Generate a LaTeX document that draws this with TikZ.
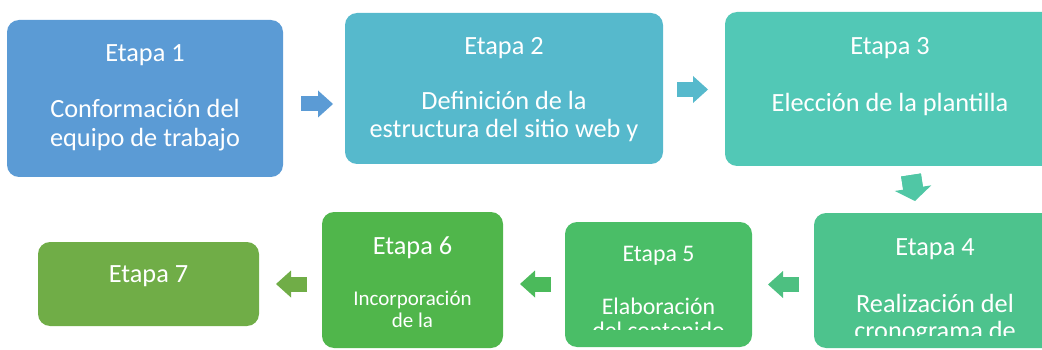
\documentclass[tikz,border=0pt]{standalone}
\usepackage{fontspec}
\setmainfont{Carlito}
\usetikzlibrary{arrows.meta,calc}
\definecolor{cA}{HTML}{5B9BD5}
\definecolor{cB}{HTML}{56B9CC}
\definecolor{cC}{HTML}{52C8B6}
\definecolor{cD}{HTML}{4DC38D}
\definecolor{cE}{HTML}{4ABE67}
\definecolor{cF}{HTML}{50B64B}
\definecolor{cG}{HTML}{70AD47}
\definecolor{aA}{HTML}{5B9BD5}
\definecolor{aB}{HTML}{56B9CC}
\definecolor{aC}{HTML}{50C7A5}
\definecolor{aD}{HTML}{4DC081}
\definecolor{aE}{HTML}{4BBA5B}
\definecolor{aF}{HTML}{70AD47}
\begin{document}
\begin{tikzpicture}[x=1pt,y=-1pt,
  stagebox/.style={rectangle, rounded corners=12pt, inner sep=0pt, draw=none},
  txt/.style={text=white, inner sep=0pt, anchor=base},
  bigf/.style={font=\fontsize{26.3}{28}\selectfont},
  midf/.style={font=\fontsize{23.8}{26}\selectfont},
  smallf/.style={font=\fontsize{21}{22}\selectfont},
  blockarrow/.style={line width=15pt, line cap=butt, -{Triangle[width=27pt,length=15pt,line width=0pt]}},
  bigarrow/.style={line width=20pt, line cap=butt, -{Triangle[width=37pt,length=13pt,line width=0pt]}}]
\useasboundingbox (0,0) rectangle (1042,350);
\clip (0,0) rectangle (1042,350);
% boxes
\node[stagebox, fill=cA, minimum width=276pt, minimum height=157pt] (b1) at (145,98.5) {};
\node[stagebox, fill=cB, minimum width=318pt, minimum height=151pt] (b2) at (504,88.5) {};
\node[stagebox, fill=cC, minimum width=330pt, minimum height=154pt] (b3) at (890,89) {};
\node[stagebox, fill=cD, minimum width=242pt, minimum height=135pt] (b4) at (935,280.5) {};
\node[stagebox, fill=cE, minimum width=187pt, minimum height=125pt] (b5) at (658.5,284.5) {};
\node[stagebox, fill=cF, minimum width=181pt, minimum height=136pt] (b6) at (412.5,280) {};
\node[stagebox, fill=cG, minimum width=221pt, minimum height=84pt] (b7) at (148.5,284) {};
% texts
\node[txt, bigf] (t1a) at (145,62) {Etapa 1};
\node[txt, bigf] (t1b) at (145,118) {Conformación del};
\node[txt, bigf] (t1c) at (145,146.5) {equipo de trabajo};
\node[txt, bigf] (t2a) at (504,55) {Etapa 2};
\node[txt, bigf] (t2b) at (504,110) {Definición de la};
\node[txt, bigf] (t2c) at (504,138) {estructura del sitio web y};
\node[txt, bigf] (t3a) at (890,55) {Etapa 3};
\node[txt, bigf] (t3b) at (890,112) {Elección de la plantilla};
\node[txt, bigf] (t4a) at (935,255) {Etapa 4};
\node[txt, bigf] (t4b) at (935,312) {Realización del};
\begin{scope}
\clip (814,213) rectangle (1056,335);
\node[txt, bigf] (t4c) at (935,339) {cronograma de};
\end{scope}
\node[txt, midf] (t5a) at (658.5,261) {Etapa 5};
\node[txt, midf] (t5b) at (658.5,314) {Elaboración};
\begin{scope}
\clip (565,222) rectangle (752,329);
\node[txt, midf] (t5c) at (658.5,338) {del contenido};
\end{scope}
\node[txt, bigf] (t6a) at (412.5,254) {Etapa 6};
\node[txt, smallf] (t6b) at (412.5,305) {Incorporación};
\node[txt, smallf] (t6c) at (412.5,327) {de la};
\begin{scope}
\clip (322,212) rectangle (503,338);
\node[txt, smallf] (t6d) at (412.5,354) {información};
\end{scope}
\node[txt, bigf] (t7a) at (148.5,282) {Etapa 7};
% arrow end points
\coordinate (a1s) at (301,104);  \coordinate (a1e) at (333,104);
\coordinate (a2s) at (677,89.5); \coordinate (a2e) at (708,89.5);
\coordinate (a3s) at (911,175);  \coordinate (a3e) at (915,201);
\coordinate (a4s) at (799,284.5);\coordinate (a4e) at (768,284.5);
\coordinate (a5s) at (551,284);  \coordinate (a5e) at (520,284);
\coordinate (a6s) at (307,284);  \coordinate (a6e) at (276,284);
\draw[blockarrow, draw=aA, fill=aA] (a1s) -- (a1e);
\draw[blockarrow, draw=aB, fill=aB] (a2s) -- (a2e);
\draw[aC, line width=20pt, line cap=butt] (a3s) -- ($(a3s)!0.6!(a3e)$);
\draw[bigarrow, draw=aC, fill=aC] (a3s) -- (a3e);
\draw[blockarrow, draw=aD, fill=aD] (a4s) -- (a4e);
\draw[blockarrow, draw=aE, fill=aE] (a5s) -- (a5e);
\draw[blockarrow, draw=aF, fill=aF] (a6s) -- (a6e);
\end{tikzpicture}
\end{document}
